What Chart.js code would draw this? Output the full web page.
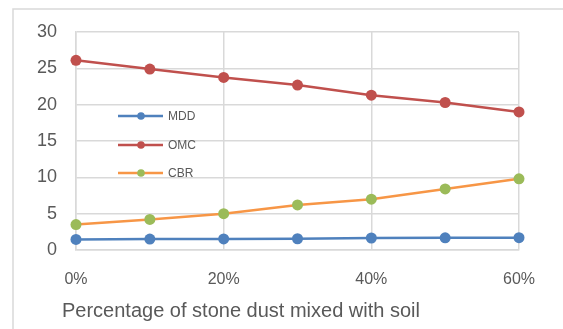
<!DOCTYPE html>
<html>
<head>
<meta charset="utf-8">
<script src="https://cdn.jsdelivr.net/npm/chart.js@4"></script>
<style>
  html, body { margin: 0; padding: 0; background: #ffffff; }
  #wrap { width: 563px; height: 329px; }
</style>
</head>
<body>
<div id="wrap"><canvas id="c" width="563" height="329"></canvas></div>
<script>
// Stone dust content (%) and the measured soil properties
const dustPercent = [0, 10, 20, 30, 40, 50, 60];
const mdd = [1.45, 1.5, 1.52, 1.55, 1.65, 1.68, 1.7];
const omc = [26.1, 24.9, 23.75, 22.7, 21.3, 20.3, 19.0];
const cbr = [3.5, 4.2, 5.0, 6.2, 7.0, 8.4, 9.8];
const seriesNames = ['MDD', 'OMC', 'CBR'];
const yTicks = [0, 5, 10, 15, 20, 25, 30];
const xTicks = [0, 20, 40, 60];
const xTitle = 'Percentage of stone dust mixed with soil';

const GRID = '#d9d9d9';
const TEXT = '#595959';
const FONT = "'Liberation Sans', Arial, sans-serif";

function pts(values) {
  return dustPercent.map((x, i) => ({ x: x, y: values[i] }));
}

// Outer frame, the axis title and a legend placed inside the plotting area
const framePlugin = {
  id: 'frameAndLegend',
  beforeDraw(chart) {
    const ctx = chart.ctx;
    ctx.save();
    ctx.strokeStyle = GRID;
    ctx.lineWidth = 1.5;
    ctx.beginPath();
    ctx.moveTo(13, chart.height);
    ctx.lineTo(13, 9);
    ctx.lineTo(chart.width, 9);
    ctx.stroke();
    ctx.restore();
  },
  afterDraw(chart) {
    const ctx = chart.ctx;
    const area = chart.chartArea;
    ctx.save();
    // x-axis title, starting a little left of the plot
    ctx.fillStyle = TEXT;
    ctx.font = "20px " + FONT;
    ctx.textAlign = 'left';
    ctx.textBaseline = 'alphabetic';
    ctx.fillText(xTitle, area.left - 14, area.bottom + 67);

    const rows = [116, 145, 173];
    chart.data.datasets.forEach((ds, i) => {
      const y = rows[i];
      ctx.strokeStyle = ds.borderColor;
      ctx.lineWidth = 2.5;
      ctx.beginPath();
      ctx.moveTo(118, y);
      ctx.lineTo(163, y);
      ctx.stroke();
      ctx.fillStyle = ds.pointBackgroundColor;
      ctx.beginPath();
      ctx.arc(141, y, 3.8, 0, Math.PI * 2);
      ctx.fill();
      ctx.fillStyle = TEXT;
      ctx.font = "12px " + FONT;
      ctx.textBaseline = 'middle';
      ctx.textAlign = 'left';
      ctx.fillText(ds.label, 168, y + 0.5);
    });
    ctx.restore();
  }
};

const series = [mdd, omc, cbr];
const lineColors = ['#4f81bd', '#c0504d', '#f79646'];
const dotColors = ['#4f81bd', '#c0504d', '#9bbb59'];

new Chart(document.getElementById('c'), {
  type: 'line',
  data: {
    datasets: series.map((vals, i) => ({
      label: seriesNames[i],
      data: pts(vals),
      borderColor: lineColors[i],
      backgroundColor: lineColors[i],
      pointBackgroundColor: dotColors[i],
      pointBorderColor: dotColors[i],
      pointRadius: 5.5,
      pointBorderWidth: 0,
      borderWidth: 2.5,
      tension: 0,
      clip: false
    }))
  },
  options: {
    responsive: false,
    animation: false,
    layout: { padding: { left: 14, right: 44, top: 32, bottom: 0 } },
    plugins: { legend: { display: false }, tooltip: { enabled: false } },
    scales: {
      x: {
        type: 'linear',
        min: 0, max: 60,
        afterBuildTicks(scale) { scale.ticks = xTicks.map(v => ({ value: v })); },
        afterFit(scale) { scale.height = 79; },
        grid: { color: GRID, lineWidth: 1.5, drawTicks: false },
        border: { color: GRID, width: 1.5 },
        ticks: {
          padding: 20,
          color: TEXT,
          font: { family: FONT, size: 16 },
          callback: v => v + '%'
        }
      },
      y: {
        min: 0, max: 30,
        afterBuildTicks(scale) { scale.ticks = yTicks.map(v => ({ value: v })); },
        afterFit(scale) { scale.width = 62; },
        grid: { color: GRID, lineWidth: 1.5, drawTicks: false },
        border: { color: GRID, width: 1.5 },
        ticks: {
          padding: 19,
          color: TEXT,
          font: { family: FONT, size: 18 }
        }
      }
    }
  },
  plugins: [framePlugin]
});
</script>
</body>
</html>
